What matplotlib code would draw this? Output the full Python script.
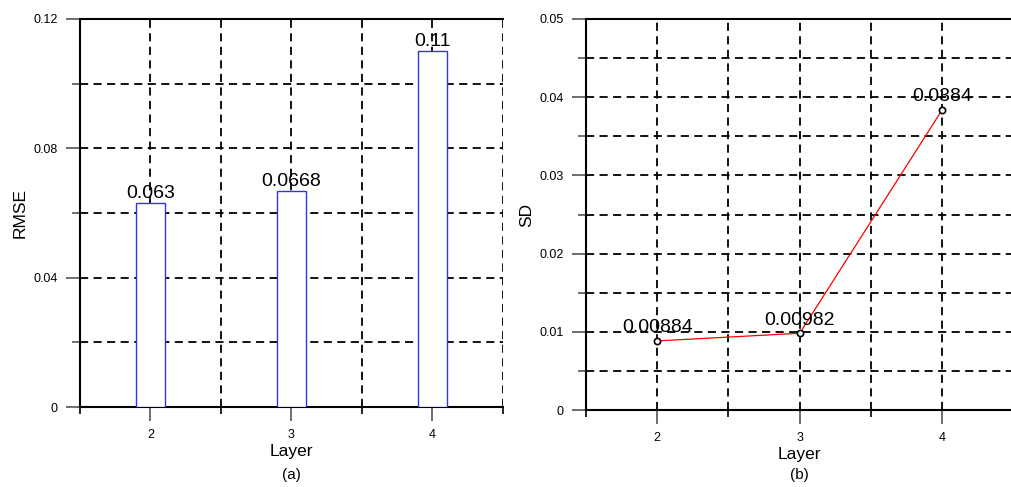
import numpy as np
import matplotlib
matplotlib.use("Agg")
import matplotlib.pyplot as plt
from matplotlib.ticker import MultipleLocator, FixedLocator

layers = [2, 3, 4]
rmse = [0.063, 0.0668, 0.11]
rmse_labels = ["0.063", "0.0668", "0.11"]
sd = [0.00884, 0.00982, 0.0384]
sd_labels = ["0.00884", "0.00982", "0.0384"]

plt.rcParams['font.family'] = ['Liberation Sans', 'DejaVu Sans']

fig = plt.figure(figsize=(10.12, 4.87), dpi=100)
ax1 = fig.add_axes([0.079, 0.164, 0.418, 0.797])
ax2 = fig.add_axes([0.579, 0.158, 0.4225, 0.803])

grid_style = dict(color='black', linestyle=(0, (4.5, 3)), linewidth=1.3)


def style_axes(ax, ymax, ymajor, yminor):
    ax.set_xlim(1.5, 4.5)
    ax.set_ylim(0, ymax)
    ax.xaxis.set_major_locator(FixedLocator(layers))
    ax.xaxis.set_minor_locator(FixedLocator([1.5, 2.5, 3.5, 4.5]))
    ax.yaxis.set_major_locator(MultipleLocator(ymajor))
    ax.yaxis.set_minor_locator(MultipleLocator(yminor))
    ax.grid(True, which='both', **grid_style)
    ax.set_axisbelow(True)
    ax.spines['right'].set_visible(False)
    for s in ['left', 'bottom', 'top']:
        ax.spines[s].set_linewidth(1.5)
    ax.tick_params(axis='both', which='major', direction='out', length=10,
                   width=1.2, color='#555555', labelsize=9, pad=6)
    ax.tick_params(axis='x', which='minor', direction='out', length=5,
                   width=1.2, color='black')
    ax.tick_params(axis='y', which='minor', direction='out', length=6,
                   width=1.2, color='#555555')
    ax.set_xlabel('Layer', fontsize=12.5, labelpad=2)
    ax.yaxis.set_major_formatter(
        plt.FuncFormatter(lambda v, p: '0' if v == 0 else f'{v:.2f}'))


# (a) RMSE bar chart
style_axes(ax1, 0.12, 0.04, 0.02)
ax1.bar(layers, rmse, width=0.2, facecolor='white', edgecolor='#3333ee',
        linewidth=1.0, zorder=3)
for x, y, t in zip(layers, rmse, rmse_labels):
    ax1.text(x, y + 0.0003, t, ha='center', va='bottom', fontsize=14, zorder=4)
ax1.set_ylabel('RMSE', fontsize=12.5)
ax1.text(0.5, -0.175, '(a)', transform=ax1.transAxes, ha='center',
         va='center', fontsize=11)

# (b) SD line chart
style_axes(ax2, 0.05, 0.01, 0.005)
ax2.plot(layers, sd, color='red', linewidth=0.9, zorder=3)
ax2.plot(layers, sd, linestyle='none', marker='o', markersize=4.5,
         markerfacecolor='white', markeredgecolor='black',
         markeredgewidth=1.2, zorder=4)
for x, y, t in zip(layers, sd, sd_labels):
    ax2.text(x, y + 0.0006, t, ha='center', va='bottom', fontsize=14, zorder=5)
ax2.set_ylabel('SD', fontsize=12.5)
ax2.text(0.5, -0.167, '(b)', transform=ax2.transAxes, ha='center',
         va='center', fontsize=11)

fig.savefig('out.png', dpi=100)
